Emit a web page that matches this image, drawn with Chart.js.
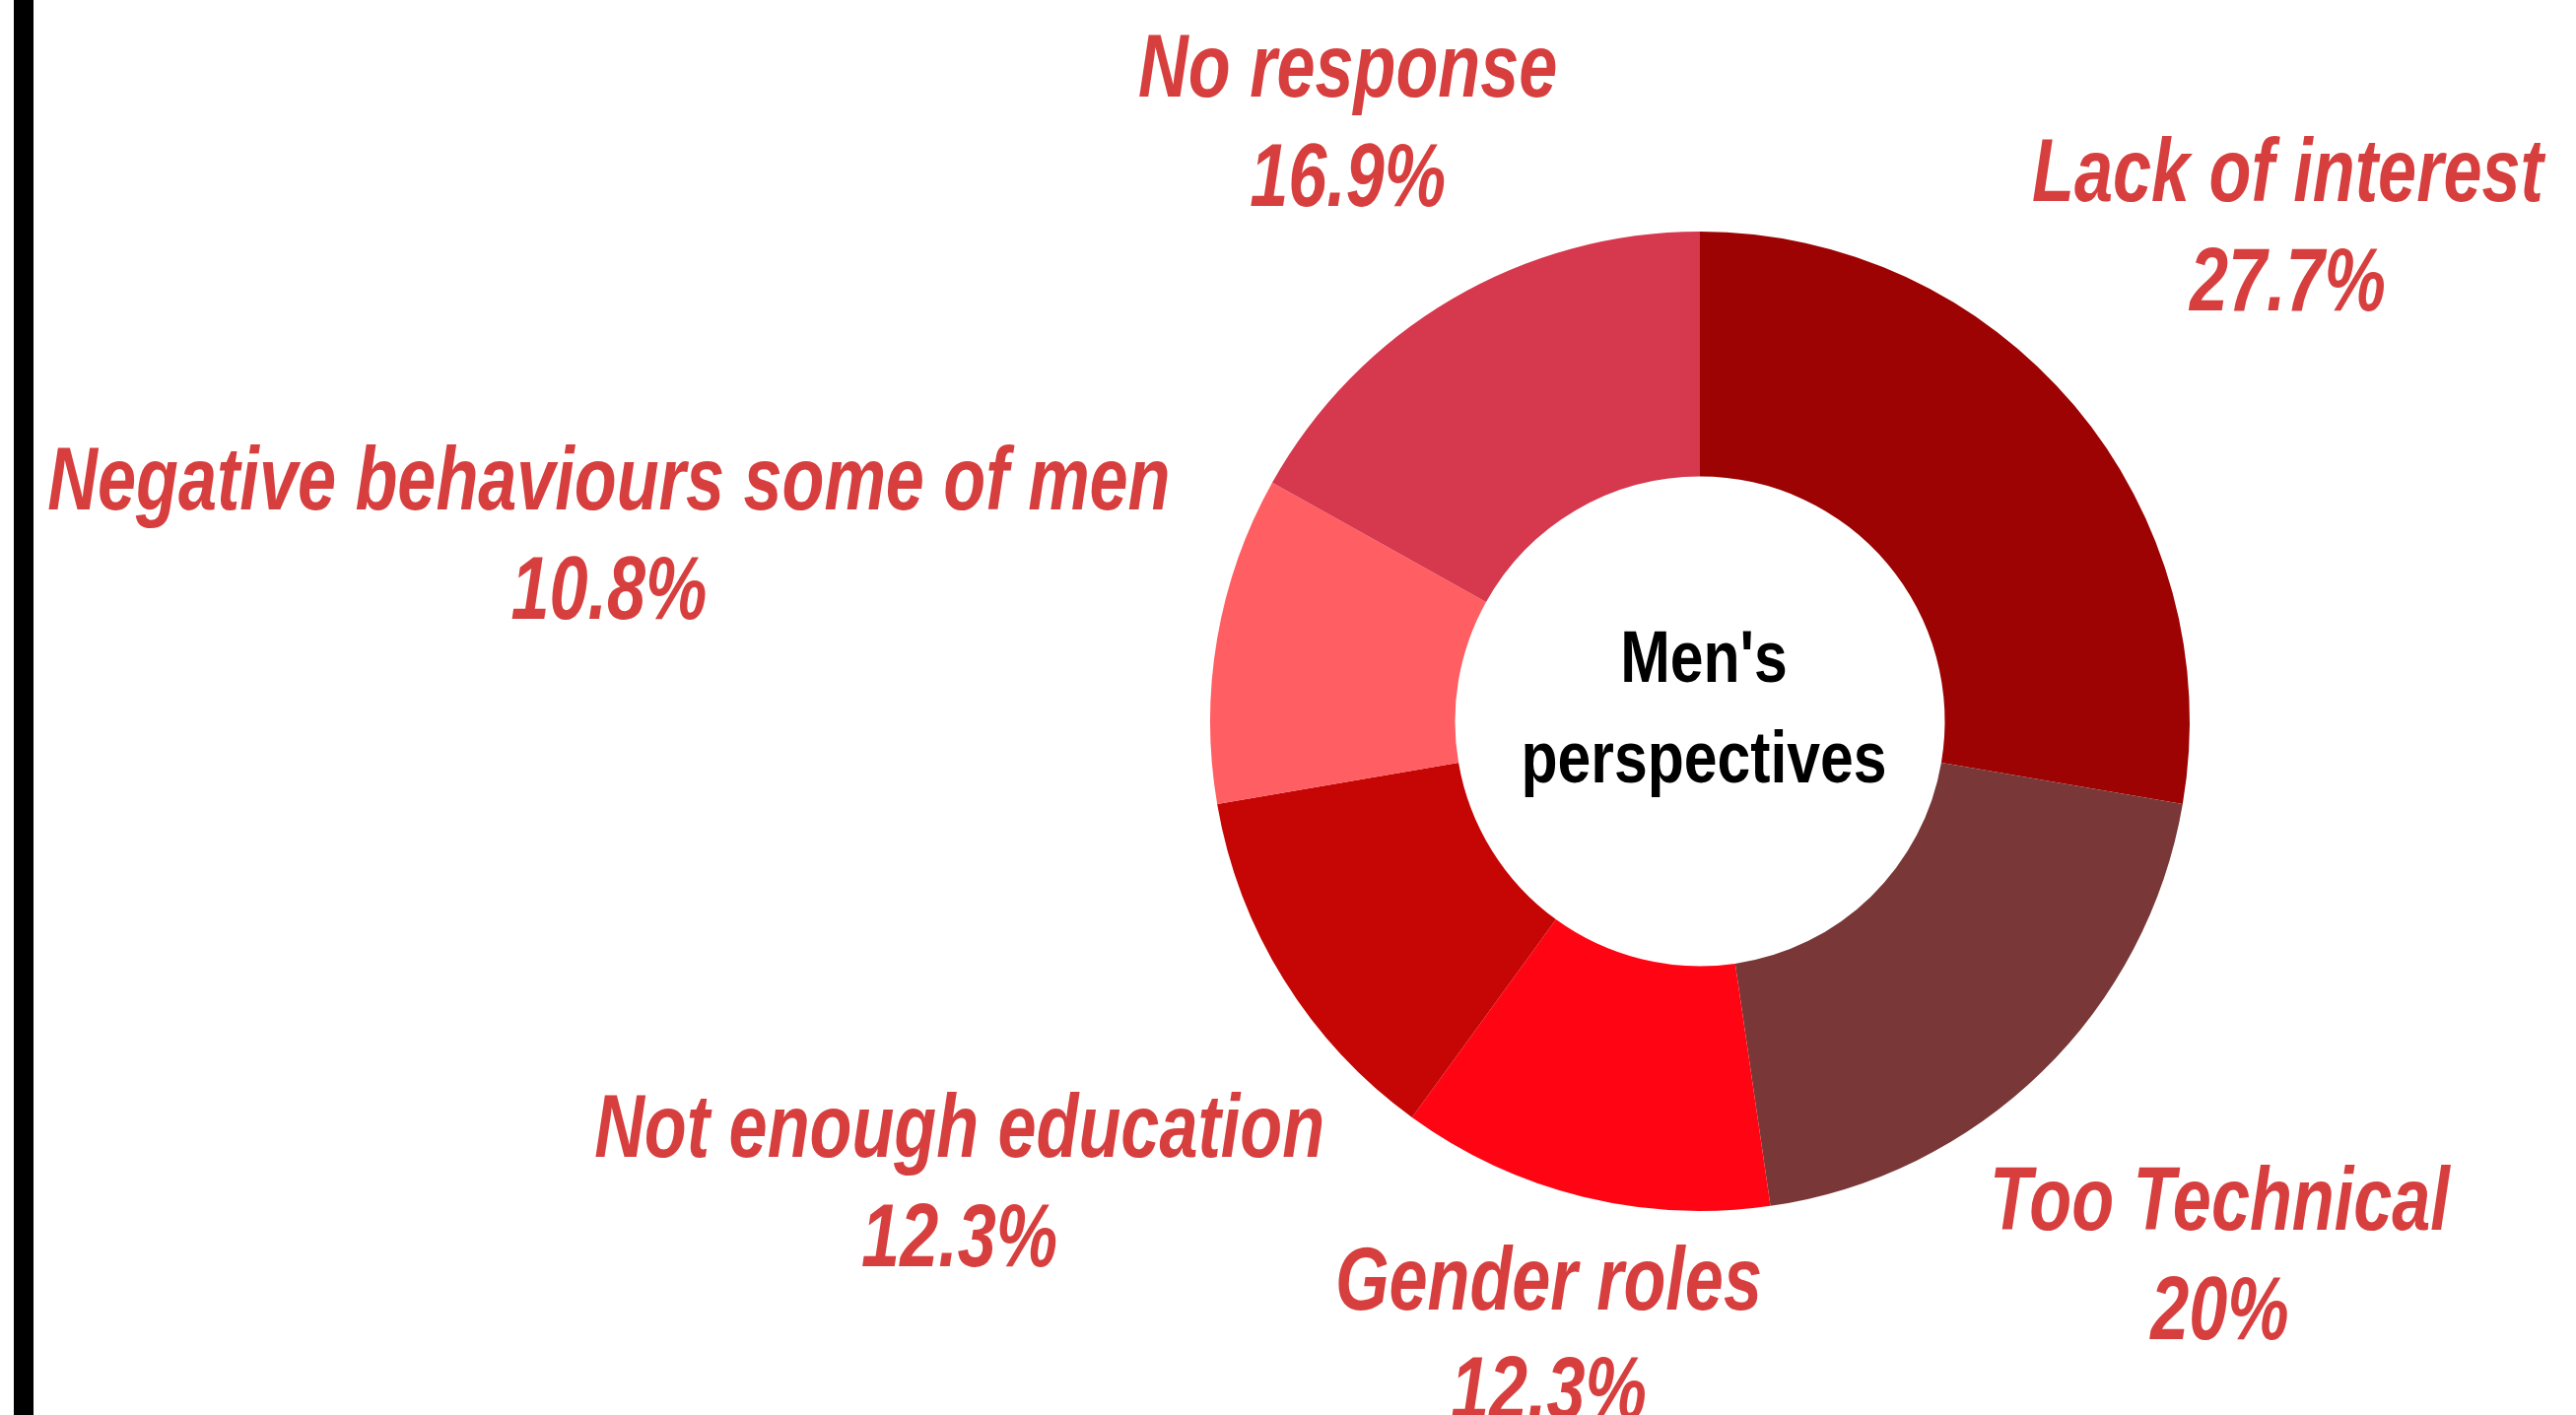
<!DOCTYPE html>
<html>
<head>
<meta charset="utf-8">
<title>Men's perspectives</title>
<script src="https://cdn.jsdelivr.net/npm/chart.js@4.4.1/dist/chart.umd.min.js"></script>
<style>
  body { margin: 0; background: #fff; }
  #wrap { position: relative; width: 2614px; height: 1436px; overflow: hidden; }
  #bar { position: absolute; left: 14px; top: 0; width: 20px; height: 100%; background: #000; }
</style>
</head>
<body>
<div id="wrap">
  <div id="bar"></div>
  <canvas id="PieChart"></canvas>
</div>
<script>
const categories = ['Lack of interest', 'Too Technical', 'Gender roles', 'Not enough education', 'Negative behaviours some of men', 'No response'];
const shares = [27.7, 20, 12.3, 12.3, 10.8, 16.9];
const sliceColors = ['#9d0303', '#7a3737', '#ff0514', '#c60505', '#ff5e62', '#d6384d'];
// how far out each label sits, in outer radii
const labelDistance = [1.57, 1.52, 1.29, 1.78, 2.26, 1.42];

const labelFont = 'italic bold 90px "Liberation Sans", Arial, sans-serif';
const centerFont = 'bold 74px "Liberation Sans", Arial, sans-serif';

// narrow text by squeezing it sideways
function narrowText(c, text, x, y, sx) {
  c.save();
  c.translate(x, y);
  c.scale(sx, 1);
  c.fillText(text, 0, 0);
  c.restore();
}

// labels outside the ring + title in the hole
const sliceLabels = {
  id: 'sliceLabels',
  afterDatasetsDraw(chart) {
    const c = chart.ctx;
    const arcs = chart.getDatasetMeta(0).data;
    c.save();
    c.textAlign = 'center';
    c.textBaseline = 'middle';
    c.fillStyle = '#d73f3f';
    c.font = labelFont;
    arcs.forEach(function (arc, i) {
      const p = arc.getProps(['x', 'y', 'startAngle', 'endAngle', 'outerRadius'], true);
      const mid = (p.startAngle + p.endAngle) / 2;
      const d = p.outerRadius * labelDistance[i];
      const lx = p.x + Math.cos(mid) * d;
      const ly = p.y + Math.sin(mid) * d;
      narrowText(c, categories[i], lx, ly - 50, 0.78);
      narrowText(c, shares[i] + '%', lx, ly + 61, 0.78);
    });

    const a = arcs[0];
    c.fillStyle = '#000';
    c.font = centerFont;
    c.textBaseline = 'alphabetic';
    narrowText(c, "Men's", a.x + 4, a.y - 40, 0.82);
    narrowText(c, 'perspectives', a.x + 4, a.y + 62, 0.82);
    c.restore();
  }
};

const ctx = document.getElementById('PieChart');

new Chart(ctx, {
  type: 'doughnut',
  data: {
    labels: categories,
    datasets: [{
      data: shares,
      backgroundColor: sliceColors,
      borderWidth: 0,
      hoverOffset: 0,
      offset: 0
    }]
  },
  options: {
    responsive: true,
    maintainAspectRatio: false,
    animation: false,
    cutout: '50%',
    layout: {
      padding: { left: 1228, right: 392, top: 235, bottom: 207 }
    },
    plugins: {
      legend: { display: false },
      tooltip: { enabled: false }
    }
  },
  plugins: [sliceLabels]
});
</script>
</body>
</html>
